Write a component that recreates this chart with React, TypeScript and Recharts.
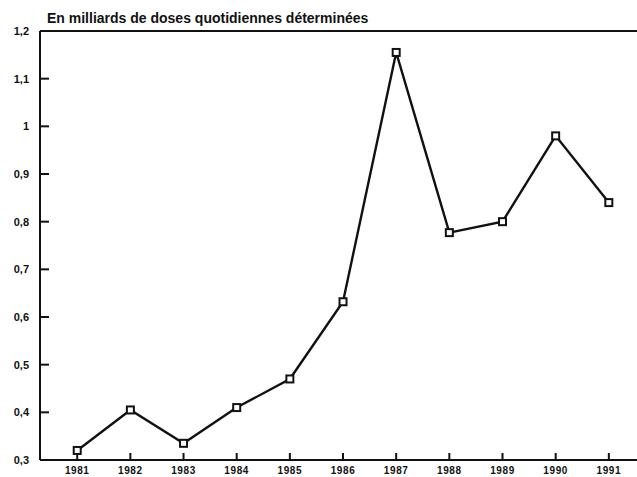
import React from "react";
import { LineChart, Line, XAxis, YAxis, ReferenceLine } from "recharts";

const years = [1981, 1982, 1983, 1984, 1985, 1986, 1987, 1988, 1989, 1990, 1991];
const doses = [0.32, 0.405, 0.335, 0.41, 0.47, 0.632, 1.155, 0.777, 0.8, 0.98, 0.84];
const yTicks = [0.3, 0.4, 0.5, 0.6, 0.7, 0.8, 0.9, 1, 1.1, 1.2];
const title = "En milliards de doses quotidiennes déterminées";

const data = years.map((y, i) => ({ year: y, value: doses[i] }));

const FONT = "'Liberation Sans', Arial, sans-serif";
const INK = "#111";

const fmtY = (v: number) => String(Math.round(v * 10) / 10).replace(".", ",");

const YTick = (props: any) => {
  const { y, payload } = props;
  const yy = payload && payload.coordinate != null ? payload.coordinate : y;
  return (
    <text x={29} y={yy + 4} textAnchor="end" fontFamily={FONT} fontWeight="bold" fontSize={11} fill={INK}>
      {fmtY(payload.value)}
    </text>
  );
};

const XTick = (props: any) => {
  const { x, payload } = props;
  const xx = payload && payload.coordinate != null ? payload.coordinate : x;
  return (
    <text x={xx} y={474} textAnchor="middle" fontFamily={FONT} fontWeight="bold" fontSize={10} letterSpacing={0.6} fill={INK}>
      {payload.value}
    </text>
  );
};

const SquareDot = (props: any) => {
  const { cx, cy } = props;
  if (cx == null || cy == null) return null;
  return <rect x={cx - 3.5} y={cy - 3.5} width={7} height={7} fill="#fff" stroke={INK} strokeWidth={2} />;
};

export default function App() {
  return (
    <div style={{ position: "absolute", left: 0, top: 0, width: 637, height: 477, background: "#fff" }}>
      <div
        style={{
          position: "absolute",
          left: 47,
          top: 10,
          fontFamily: FONT,
          fontWeight: "bold",
          fontSize: 14,
          lineHeight: "16px",
          color: INK,
          whiteSpace: "nowrap",
        }}
      >
        {title}
      </div>
      <LineChart width={637} height={477} data={data} margin={{ top: 31, right: 0, bottom: 0, left: 0 }}>
        <XAxis
          dataKey="year"
          type="number"
          domain={[1980.3, 1991.53]}
          ticks={years}
          height={17}
          tickSize={-7}
          tickMargin={0}
          tick={<XTick />}
          tickLine={{ stroke: INK, strokeWidth: 2 }}
          axisLine={{ stroke: INK, strokeWidth: 2 }}
          interval={0}
          allowDataOverflow
        />
        <YAxis
          type="number"
          domain={[0.3, 1.2]}
          ticks={yTicks}
          width={40}
          tickSize={-9}
          tickMargin={0}
          tick={<YTick />}
          tickLine={{ stroke: INK, strokeWidth: 2 }}
          axisLine={{ stroke: INK, strokeWidth: 2 }}
          interval={0}
          allowDataOverflow
        />
        <ReferenceLine y={1.2} stroke={INK} strokeWidth={2} ifOverflow="visible" />
        <Line
          type="linear"
          dataKey="value"
          stroke={INK}
          strokeWidth={2.4}
          dot={<SquareDot />}
          activeDot={false}
          isAnimationActive={false}
        />
      </LineChart>
    </div>
  );
}
